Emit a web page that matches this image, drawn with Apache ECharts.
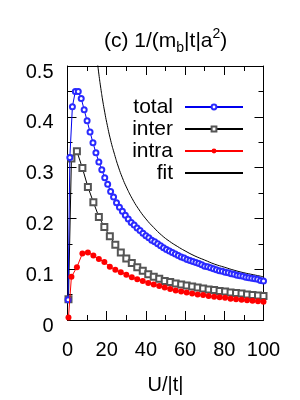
<!DOCTYPE html>
<html>
<head>
<meta charset="utf-8">
<script src="https://cdn.jsdelivr.net/npm/echarts@6/dist/echarts.min.js"></script>
<style>
html,body{margin:0;padding:0;background:#fff;}
#chart{width:300px;height:400px;}
</style>
</head>
<body>
<div id="chart"></div>
<script>
// ---- data ----
const totalU = [0.3, 1.2, 2.5, 4, 5.5, 7, 8.5, 10, 11.5, 13, 14.5, 16, 17.5, 19, 20.5, 22, 23.5, 25, 26.5, 28, 29.5, 31, 32.5, 34, 35.5, 37, 38.5, 40, 41.5, 43, 44.5, 46, 47.5, 49, 50.5, 52, 53.5, 55, 56.5, 58, 59.5, 61, 62.5, 64, 65.5, 67, 68.5, 70, 71.5, 73, 74.5, 76, 77.5, 79, 80.5, 82, 83.5, 85, 86.5, 88, 89.5, 91, 92.5, 94, 95.5, 97, 98.5, 100];
const totalY = [0.04, 0.32, 0.42, 0.45, 0.45, 0.436, 0.414, 0.392, 0.37, 0.349, 0.329, 0.311, 0.296, 0.28, 0.267, 0.253, 0.242, 0.231, 0.222, 0.214, 0.206, 0.199, 0.192, 0.187, 0.181, 0.176, 0.171, 0.166, 0.162, 0.157, 0.154, 0.150, 0.146, 0.142, 0.139, 0.136, 0.133, 0.130, 0.127, 0.124, 0.122, 0.119, 0.117, 0.115, 0.113, 0.111, 0.109, 0.106, 0.105, 0.103, 0.101, 0.099, 0.097, 0.096, 0.094, 0.093, 0.091, 0.090, 0.088, 0.087, 0.086, 0.084, 0.083, 0.082, 0.081, 0.080, 0.078, 0.077];

const partU = [0.5, 2, 4.8, 7.6, 10.4, 13.2, 16, 18.8, 21.6, 24.4, 27.2, 30, 32.8, 35.6, 38.4, 41.2, 44, 46.8, 49.6, 52.4, 55.2, 58, 60.8, 63.6, 66.4, 69.2, 72, 74.8, 77.6, 80.4, 83.2, 86, 88.8, 91.6, 94.4, 97.2, 100];
const interY = [0.041, 0.318, 0.332, 0.299, 0.262, 0.232, 0.203, 0.183, 0.165, 0.148, 0.133, 0.121, 0.112, 0.104, 0.097, 0.090, 0.085, 0.081, 0.077, 0.075, 0.072, 0.070, 0.068, 0.066, 0.064, 0.062, 0.060, 0.059, 0.057, 0.056, 0.054, 0.053, 0.052, 0.050, 0.049, 0.048, 0.047];
const intraY = [0.005, 0.085, 0.104, 0.131, 0.133, 0.127, 0.120, 0.114, 0.105, 0.099, 0.094, 0.089, 0.084, 0.080, 0.077, 0.073, 0.070, 0.067, 0.064, 0.061, 0.058, 0.056, 0.054, 0.052, 0.050, 0.049, 0.047, 0.046, 0.045, 0.044, 0.042, 0.041, 0.040, 0.039, 0.038, 0.037, 0.036];

const fitU = [15, 16, 17, 18, 19, 20, 22, 24, 26, 28, 30, 33, 36, 40, 44, 48, 52, 56, 60, 65, 70, 75, 80, 85, 90, 95, 100];
const fitY = [0.516, 0.484, 0.456, 0.431, 0.409, 0.389, 0.354, 0.326, 0.301, 0.280, 0.262, 0.239, 0.220, 0.199, 0.182, 0.167, 0.155, 0.145, 0.136, 0.126, 0.118, 0.110, 0.104, 0.098, 0.093, 0.089, 0.085];

const seriesNames = ['total', 'inter', 'intra', 'fit'];
const xTickLabels = ['0', '20', '40', '60', '80', '100'];
const yTickLabels = ['0', '0.1', '0.2', '0.3', '0.4', '0.5'];

function pairs(xs, ys) { return xs.map((x, i) => [x, ys[i]]); }

const FONT = 'Liberation Sans';
const chart = echarts.init(document.getElementById('chart'), null, {renderer: 'canvas'});

const axisCommon = {
  axisLine: {show: true, onZero: false, lineStyle: {color: '#000', width: 1}},
  axisTick: {show: true, inside: true, length: 9, lineStyle: {color: '#000', width: 1}},
  minorTick: {show: true, splitNumber: 2, length: 5, lineStyle: {color: '#000', width: 1}},
  splitLine: {show: false},
  minorSplitLine: {show: false}
};

const option = {
  animation: false,
  backgroundColor: '#fff',
  title: {
    text: '(c) 1/(m{sub|b}|t|a{sup|2})',
    left: 99,
    top: 22,
    textStyle: {
      fontFamily: FONT, fontSize: 21, fontWeight: 'normal', color: '#000', lineHeight: 28,
      rich: {
        sub: {fontFamily: FONT, fontSize: 14, color: '#000', verticalAlign: 'bottom', lineHeight: 12},
        sup: {fontFamily: FONT, fontSize: 14, color: '#000', verticalAlign: 'top', lineHeight: 10}
      }
    }
  },
  legend: {
    data: [
      {name: seriesNames[0]},
      {name: seriesNames[1]},
      {name: seriesNames[2]},
      {name: seriesNames[3], itemStyle: {opacity: 0}}
    ],
    orient: 'vertical',
    right: 51,
    top: 91,
    align: 'right',
    itemWidth: 58,
    itemHeight: 6,
    itemGap: 0,
    textStyle: {fontFamily: FONT, fontSize: 21, color: '#000', padding: [0, 7, 0, 0], lineHeight: 22},
    selectedMode: false
  },
  grid: {left: 67.5, right: 36.5, top: 66, bottom: 69.3, containLabel: false},
  xAxis: [
    Object.assign({}, axisCommon, {
      type: 'value', min: 0, max: 100, interval: 20, position: 'bottom',
      name: 'U/|t|', nameLocation: 'middle', nameGap: 55,
      nameTextStyle: {fontFamily: FONT, fontSize: 20, color: '#000'},
      axisLabel: {show: true, margin: 20, fontFamily: FONT, fontSize: 20, color: '#000',
        formatter: v => xTickLabels[Math.round(v / 20)]}
    }),
    Object.assign({}, axisCommon, {
      type: 'value', min: 0, max: 100, interval: 20, position: 'top',
      axisLabel: {show: false}
    })
  ],
  yAxis: [
    Object.assign({}, axisCommon, {
      type: 'value', min: 0, max: 0.5, interval: 0.1, position: 'left',
      axisLabel: {show: true, margin: 14, fontFamily: FONT, fontSize: 20, color: '#000',
        verticalAlign: 'top', lineHeight: 12,
        formatter: v => yTickLabels[Math.round(v * 10)]}
    }),
    Object.assign({}, axisCommon, {
      type: 'value', min: 0, max: 0.5, interval: 0.1, position: 'right',
      axisLabel: {show: false}
    })
  ],
  series: [
    {
      name: 'total', type: 'line', data: pairs(totalU, totalY),
      symbol: 'emptyCircle', symbolSize: 5, showAllSymbol: true, clip: true,
      itemStyle: {color: '#2a2aff', borderWidth: 1},
      lineStyle: {color: '#0000ee', width: 1}, z: 4
    },
    {
      name: 'inter', type: 'line', data: pairs(partU, interY),
      symbol: 'emptyRect', symbolSize: 6, showAllSymbol: true, clip: true,
      itemStyle: {color: '#555555', borderWidth: 1},
      lineStyle: {color: '#000', width: 1}, z: 3
    },
    {
      name: 'intra', type: 'line', data: pairs(partU, intraY),
      symbol: 'circle', symbolSize: 6, showAllSymbol: true, clip: true,
      itemStyle: {color: '#ff0000'},
      lineStyle: {color: '#ff0000', width: 1}, z: 5
    },
    {
      name: 'fit', type: 'line', data: pairs(fitU, fitY),
      symbol: 'none', smooth: true, clip: true,
      itemStyle: {color: '#000'},
      lineStyle: {color: '#000', width: 1}, z: 2
    }
  ]
};
chart.setOption(option);
</script>
</body>
</html>
